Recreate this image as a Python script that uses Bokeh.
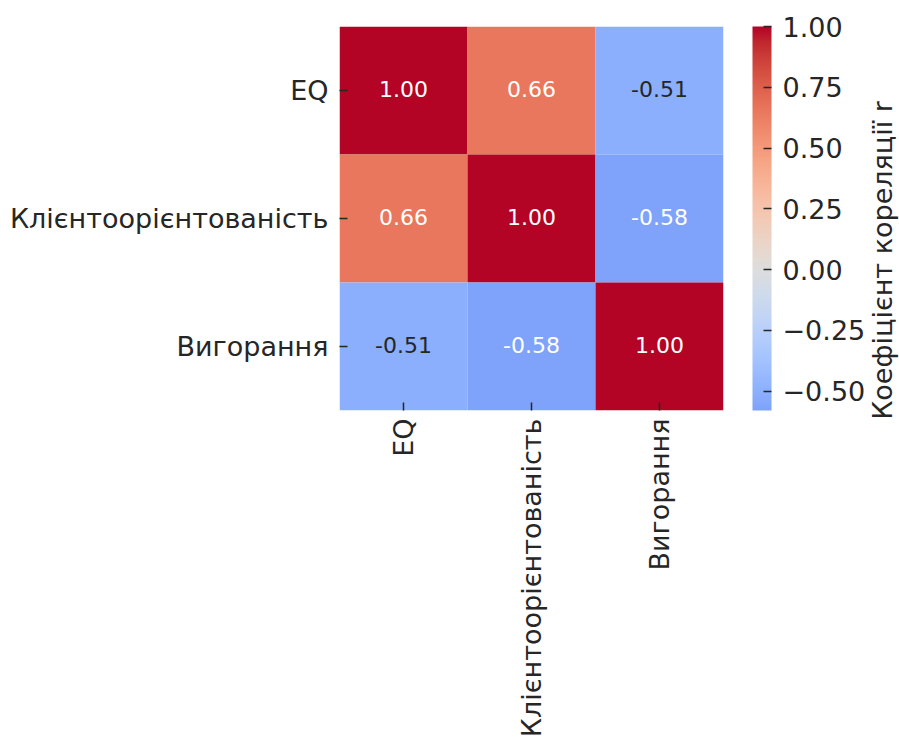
import numpy as np
from math import pi
from bokeh.plotting import figure
from bokeh.models import (ColumnDataSource, LinearColorMapper, ColorBar, FixedTicker,
                          CustomJSTickFormatter, CategoricalAxis, FactorRange)
from bokeh.transform import transform
from bokeh.core.properties import value
from bokeh.embed import file_html
from bokeh.resources import INLINE

# ---- data ----
variables = ["EQ", "Клієнтоорієнтованість", "Вигорання"]
corr_eq = [1.00, 0.66, -0.51]
corr_client = [0.66, 1.00, -0.58]
corr_burnout = [-0.51, -0.58, 1.00]
cb_ticks = [-0.50, -0.25, 0.00, 0.25, 0.50, 0.75, 1.00]
cb_title = "Коефіцієнт кореляції r"

matrix = [corr_eq, corr_client, corr_burnout]

# ---- coolwarm colormap (matplotlib control points) ----
cw_pos = np.linspace(0, 1, 33)
cw_r = [0.2298057, 0.26623388, 0.30386891, 0.342804478, 0.38301334, 0.424369608, 0.46666708,
        0.509635204, 0.552953156, 0.596262162, 0.639176211, 0.681291281, 0.722193294,
        0.761464949, 0.798691636, 0.833466556, 0.865395197, 0.897787179, 0.924127593,
        0.944468518, 0.958852946, 0.96732803, 0.969954137, 0.966811177, 0.958003065,
        0.943660866, 0.923944917, 0.89904617, 0.869186849, 0.834620542, 0.795631745,
        0.752534934, 0.705673158]
cw_g = [0.298717966, 0.353094838, 0.406535296, 0.458757618, 0.50941904, 0.558148092,
        0.604562568, 0.648280772, 0.688929332, 0.726149107, 0.759599947, 0.788964712,
        0.813952739, 0.834302879, 0.849786142, 0.860207984, 0.86541021, 0.848937047,
        0.827384882, 0.800927443, 0.769767752, 0.734132809, 0.694266682, 0.650421156,
        0.602842431, 0.551750968, 0.49730856, 0.439559467, 0.378313092, 0.312874446,
        0.24128379, 0.157246067, 0.01555616]
cw_b = [0.753683153, 0.801466763, 0.84495867, 0.883725899, 0.917387822, 0.945619588,
        0.968154911, 0.98478814, 0.995375608, 0.999836203, 0.998151185, 0.990363227,
        0.976574709, 0.956945269, 0.931688648, 0.901068838, 0.865395561, 0.820880546,
        0.774508472, 0.726736146, 0.678007945, 0.628751763, 0.579375448, 0.530263762,
        0.481775914, 0.434243684, 0.387970225, 0.343229596, 0.300267182, 0.259301199,
        0.220525627, 0.184115123, 0.150232812]


def coolwarm(t):
    return (np.interp(t, cw_pos, cw_r), np.interp(t, cw_pos, cw_g), np.interp(t, cw_pos, cw_b))


vals = np.array(matrix)
vmin, vmax, center = vals.min(), vals.max(), 0.0
vrange = max(vmax - center, center - vmin)
cmin = (vmin - (center - vrange)) / (2 * vrange)
cmax = (vmax - (center - vrange)) / (2 * vrange)
samples = np.linspace(cmin, cmax, 256)
rgb = [coolwarm(t) for t in samples]
palette = ["#%02x%02x%02x" % tuple(int(round(c * 255)) for c in col) for col in rgb]


def lum(col):
    lin = [c / 12.92 if c <= 0.03928 else ((c + 0.055) / 1.055) ** 2.4 for c in col]
    return 0.2126 * lin[0] + 0.7152 * lin[1] + 0.0722 * lin[2]


xs, ys, vs, labels, tcolors = [], [], [], [], []
for i, row_name in enumerate(variables):
    for j, col_name in enumerate(variables):
        v = matrix[i][j]
        idx = int(min(255, max(0, np.floor((v - vmin) / (vmax - vmin) * 256))))
        xs.append(col_name)
        ys.append(row_name)
        vs.append(v)
        labels.append("%.2f" % v)
        tcolors.append("#262626" if lum(rgb[idx]) > 0.408 else "#ffffff")

src = ColumnDataSource(dict(x=xs, y=ys, v=vs, label=labels, tc=tcolors))
mapper = LinearColorMapper(palette=palette, low=vmin, high=vmax)

FONT = "DejaVu Sans"
TXT = "#262626"
FS = "27px"

p = figure(x_range=FactorRange(*variables), y_range=FactorRange(*variables[::-1]),
           frame_width=384, frame_height=384, output_backend="svg", toolbar_location=None,
           min_border_left=339, min_border_top=26, min_border_right=0, min_border_bottom=0)
p.rect(x="x", y="y", width=1, height=1, source=src,
       fill_color=transform("v", mapper), line_color=None)
p.text(x="x", y="y", text="label", source=src, text_color="tc",
       text_align="center", text_baseline="middle",
       text_font=value(FONT), text_font_size="22px", y_offset=-2)

p.outline_line_color = None
p.grid.grid_line_color = None
for ax in (p.xaxis[0], p.yaxis[0]):
    ax.axis_line_color = None
    ax.major_tick_in = 8
    ax.major_tick_out = 0
    ax.major_tick_line_color = TXT
    ax.major_tick_line_width = 1.5
    ax.major_label_text_font = FONT
    ax.major_label_text_font_size = FS
    ax.major_label_text_color = TXT
p.yaxis[0].major_label_standoff = 11
p.xaxis[0].major_label_standoff = 8
p.xaxis[0].major_label_orientation = pi / 2

formatter = CustomJSTickFormatter(code="""
    const a = Math.abs(tick).toFixed(2);
    return (tick < -1e-9 ? '\\u2212' : '') + a;
""")
cb = ColorBar(color_mapper=mapper, width=19, height=384, padding=0, margin=0,
              location=(29, 0),
              ticker=FixedTicker(ticks=cb_ticks), formatter=formatter,
              major_tick_in=8, major_tick_out=0, major_tick_line_color=TXT,
              major_tick_line_width=1.5,
              major_label_text_font=FONT, major_label_text_font_size=FS,
              major_label_text_color=TXT, label_standoff=11,
              bar_line_color=None, background_fill_alpha=0, border_line_color=None)
p.add_layout(cb, "right")

p.extra_y_ranges = {"cbt": FactorRange(cb_title)}
title_axis = CategoricalAxis(y_range_name="cbt",
                             major_label_orientation=pi / 2, axis_line_color=None,
                             major_tick_line_color=None, major_tick_in=0, major_tick_out=0,
                             major_label_standoff=14,
                             major_label_text_font=FONT, major_label_text_font_size=FS,
                             major_label_text_color=TXT)
p.add_layout(title_axis, "right")

open("out.html", "w").write(file_html(p, INLINE))
